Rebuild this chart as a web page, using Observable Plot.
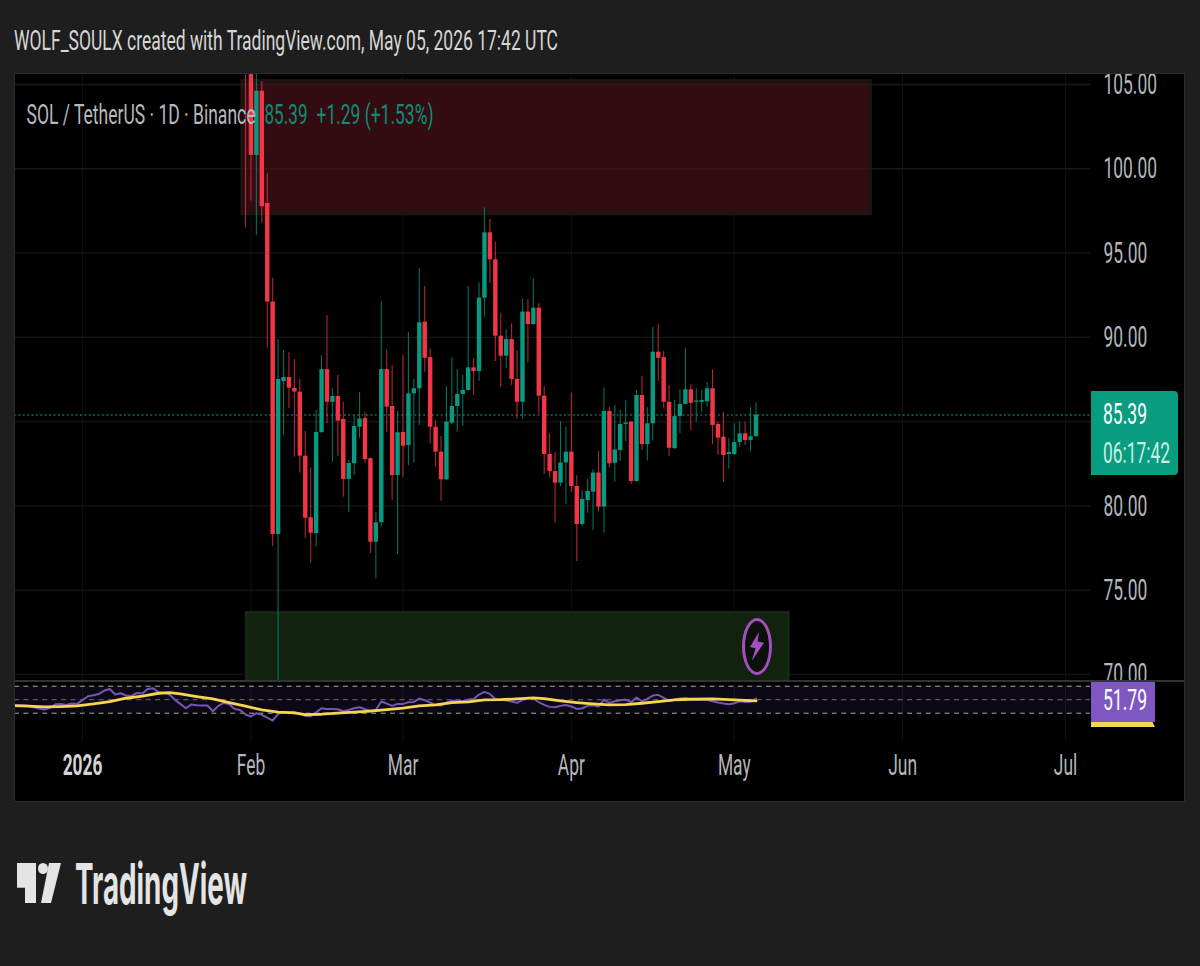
<!DOCTYPE html>
<html>
<head>
<meta charset="utf-8">
<script src="https://cdn.jsdelivr.net/npm/d3@7"></script>
<script src="https://cdn.jsdelivr.net/npm/@observablehq/plot@0.6"></script>
<style>
html,body{margin:0;padding:0;background:#1e1e1e;}
body{width:1200px;height:966px;position:relative;overflow:hidden;font-family:Roboto,sans-serif;}
.sq{position:absolute;white-space:pre;transform-origin:0 50%;line-height:1;}
svg{display:block;}
</style>
</head>
<body>
<div id="root"></div>
<script>
// ---------- Data ----------
const firstCandleDay = Date.UTC(2026, 0, 31);
const opens = [108,
  106.5,100.79,104.6,97.94,92.1,78.3,87.38,87.62,86.98,86.75,82.95,79.3,78.36,84.35,88.09,86.15,86.49,85.13,81.57,82.5,84.67,85.19,82.8,77.85,79.0,88.09,85.9,81.8,
  84.36,83.58,86.65,86.95,90.9,88.8,84.67,83.19,81.55,84.91,85.9,86.61,86.85,88.19,87.97,92.32,96.2,94.6,90.07,88.88,89.87,87.5,86.15,91.5,90.76,91.73,86.51,83.05,82.04,81.35,82.55,
  83.19,81.15,78.9,80.32,80.82,81.95,79.93,85.6,82.53,83.29,84.83,84.97,81.45,86.55,83.64,84.87,89.12,88.8,86.15,83.4,85.3,86.02,86.89,86.15,86.15,86.17,86.95,84.83,84.08,83.05,
  83.05,83.76,84.28,83.88,84.1];
const highs = [110,
  107.5,106.5,105.18,99.72,93.5,89.87,89.22,89.12,88.69,87.5,84.42,82.26,85.66,88.92,91.3,86.97,87.74,86.15,82.7,85.36,86.71,85.56,82.85,79.6,92.12,89.26,88.33,85.62,
  88.92,90.27,87.5,94.08,93.02,89.3,85.07,84.12,87.08,88.79,88.09,87.74,93.02,88.73,93.24,97.68,96.99,95.65,91.4,90.45,90.8,89.22,92.29,92.23,93.47,91.99,87.08,84.28,83.19,85.0,84.67,
  86.69,81.8,80.92,81.6,82.14,83.23,87.0,85.86,85.96,85.66,86.26,85.0,86.85,87.68,85.82,90.6,90.76,89.16,87.14,86.25,86.9,89.32,87.2,86.95,86.85,87.3,88.08,84.97,85.56,83.98,
  84.87,84.97,84.97,85.86,86.1];
const lows = [96.5,
  98.08,96.04,96.75,89.36,77.6,69.5,84.18,85.78,82.89,81.94,78.08,76.6,77.55,84.3,84.89,82.59,82.95,80.52,79.63,81.8,84.02,82.53,77.16,75.68,78.73,84.37,80.32,77.12,
  81.7,82.4,82.53,84.77,87.93,83.68,82.3,80.28,81.5,84.83,84.37,84.71,86.8,86.55,87.38,91.2,93.2,88.57,87.04,88.17,87.14,85.16,85.16,88.47,90.7,85.46,81.86,81.66,78.98,81.15,80.08,
  80.81,76.7,78.8,79.57,78.54,79.63,78.38,82.26,81.41,82.64,83.82,81.27,81.41,83.29,82.66,83.85,87.4,85.8,82.95,83.35,84.27,86.0,84.47,84.97,85.56,85.86,83.64,82.99,81.41,82.19,
  82.99,83.48,83.58,83.25,84.1];
const closes = [106.5,
  100.79,104.6,97.75,92.09,78.3,87.5,87.62,86.98,86.75,82.95,79.27,78.38,84.36,88.09,86.15,86.49,85.03,81.57,82.52,84.71,85.16,82.75,77.85,79.0,88.09,85.86,81.8,84.34,
  83.54,86.65,86.95,90.86,88.76,84.67,83.19,81.55,84.97,85.9,86.61,86.85,88.19,87.97,92.32,96.2,94.6,90.07,88.88,89.87,87.5,86.15,91.5,90.76,91.73,86.51,83.05,82.04,81.35,82.55,83.19,
  81.15,78.9,80.38,80.86,81.95,79.93,85.6,82.5,83.32,84.83,84.91,81.45,86.55,83.64,84.87,89.12,88.76,86.15,83.42,85.3,86.02,86.89,86.09,86.22,86.25,86.95,84.77,84.02,82.99,83.17,
  83.76,84.28,83.88,84.1,85.39];

const firstRsiDay = Date.UTC(2025, 11, 19);
const rsiValues = [41.9,41.4,41.4,40.9,38.9,36.9,35.4,37.9,43.3,43.8,42.3,44.3,43.8,49.8,55.2,56.7,58.6,63.6,66.0,57.7,59.6,56.2,55.7,60.1,59.1,66.0,67.0,61.1,60.1,57.7,49.8,43.8,37.4,42.8,41.9,41.4,41.4,33.0,40.9,45.3,43.3,36.4,34.9,28.0,25.1,30.0,27.5,23.6,19.1,29.0,31.5,31.5,31.5,29.0,26.0,25.6,31.5,37.4,36.4,36.4,35.9,33.0,34.9,37.4,38.9,35.9,33.9,34.9,47.3,44.3,40.9,43.8,
  43.8,46.3,46.8,51.7,49.3,45.8,42.3,41.4,45.8,48.3,48.3,47.8,50.2,51.2,57.7,61.6,58.6,51.2,50.2,48.8,47.3,45.3,49.8,52.2,52.2,46.3,42.3,39.4,38.9,40.9,42.3,39.9,36.4,37.4,40.9,41.9,39.9,50.2,45.3,47.8,49.3,50.2,46.3,53.2,47.8,51.2,56.2,57.2,52.7,47.8,50.2,51.7,52.7,50.7,49.8,49.8,49.8,47.8,45.8,44.3,43.3,44.8,47.8,46.8,46.8,51.79];
const maDayIndex = [0,3,6,9,12,15,18,21,24,27,29,31,34,37,40,43,46,49,52,54,57,60,63,66,69,72,75,78,81,84,87,90,93,96,98,101,104,107,110,113,116,119,122,125,129,133,137];
const maValues = [41.4,40.4,39.4,39.9,40.9,43.8,47.3,52.2,55.2,59.6,60.6,58.6,54.7,51.2,45.8,40.4,34.9,31.5,30.5,28.0,28.5,30.0,31.5,33.0,35.4,37.4,40.9,42.3,45.8,46.8,49.8,50.2,51.2,52.7,51.7,48.3,45.8,43.8,42.3,42.8,44.8,47.3,49.8,50.7,51.2,49.8,48.3];

const priceTicks = [70,75,80,85,90,95,100,105];
const monthDates = [[2026,1],[2026,2],[2026,3],[2026,4],[2026,5],[2026,6]];
const monthLabels = ["Feb","Mar","Apr","May","Jun","Jul"];
const yearLabel = "2026";
const lastPrice = 85.39;
const lastRsi = 51.79;
const countdown = "06:17:42";
const titleText = "WOLF_SOULX created with TradingView.com, May 05, 2026 17:42 UTC";
const symbolText = "SOL / TetherUS · 1D · Binance";
const changeText = "+1.29 (+1.53%)";
const supplyZone = {from: Date.UTC(2026,0,30,12), to: Date.UTC(2026,4,26,2), top: 105.18, bottom: 97.32};
const demandZone = {from: Date.UTC(2026,0,31,6), to: Date.UTC(2026,4,11,0), top: 73.65, bottom: 69};

// ---------- Tables ----------
const DAY = 864e5;
const candles = opens.map((o,i)=>({date:new Date(firstCandleDay+i*DAY),o,h:highs[i],l:lows[i],c:closes[i]}));
const rsi = rsiValues.map((v,i)=>({date:new Date(firstRsiDay+i*DAY),v}));
const ma = maValues.map((v,i)=>({date:new Date(firstRsiDay+maDayIndex[i]*DAY),v}));
const months = monthDates.map(([y,m])=>new Date(Date.UTC(y,m,1)));
const jan = new Date(Date.UTC(2026,0,1));
const allMonths = [jan,...months];
const labelOf = new Map(months.map((d,i)=>[+d,monthLabels[i]]));

// ---------- Shared scale ----------
const xDomain = [new Date(Date.UTC(2025,11,19,11)), new Date(Date.UTC(2026,6,5,14,24))];
const GREEN="#089981", RED="#f23645", GRID="#131313", VGRID="#111111", TXT="#b4b6bc";
const FONT="Roboto, sans-serif";
const col = d=>d.c>=d.o?GREEN:RED;

const root = document.getElementById("root");
function place(el,l,t){el.style.position="absolute";el.style.left=l+"px";el.style.top=t+"px";root.appendChild(el);return el;}
function squash(svg,widths,r){
  svg.querySelectorAll("text").forEach(t=>{
    const s=t.textContent, len=t.getComputedTextLength();
    const w=widths[s]!==undefined?widths[s]:len*r;
    t.setAttribute("textLength",w);
    t.setAttribute("lengthAdjust","spacingAndGlyphs");
  });
}
function label(text,l,cy,size,width,color,weight,family){
  const s=document.createElement("div");
  s.className="sq";
  s.textContent=text;
  s.style.fontSize=size+"px";
  s.style.color=color;
  if(weight)s.style.fontWeight=weight;
  if(family)s.style.fontFamily=family;
  root.appendChild(s);
  const w=s.getBoundingClientRect().width;
  s.style.left=l+"px";
  s.style.top=(cy-size/2)+"px";
  s.style.transform=`scaleX(${width/w})`;
  return s;
}

// ---------- Panel ----------
const panel=document.createElement("div");
panel.style.cssText="width:1171px;height:729px;background:#000;box-sizing:border-box;";
place(panel,14,73);

// ---------- Price pane ----------
const pricePlot = Plot.plot({
  width:1171,height:608,marginLeft:0,marginRight:95,marginTop:0,marginBottom:0,
  style:{background:"#000",color:TXT,fontFamily:FONT,fontSize:"30px",overflow:"visible"},
  x:{type:"utc",domain:xDomain,range:[0,1076],axis:null},
  y:{domain:[69.61,105.65],range:[607.6,0],axis:null},
  marks:[
    Plot.ruleX(allMonths,{stroke:VGRID,strokeWidth:1}),
    Plot.ruleY(priceTicks,{stroke:GRID,strokeWidth:1.5}),
    Plot.rect([supplyZone],{x1:"from",x2:"to",y1:"bottom",y2:"top",fill:"#330c12",stroke:"#1c1312",strokeWidth:4,clip:true}),
    Plot.rect([demandZone],{x1:"from",x2:"to",y1:"bottom",y2:"top",fill:"#11230e",stroke:"#182616",strokeWidth:3,clip:true}),
    Plot.ruleY(priceTicks.filter(d=>d===100||d===105),{stroke:"#ffffff",strokeOpacity:0.03,strokeWidth:1.5}),
    Plot.ruleY([lastPrice],{stroke:"#1aa88f",strokeWidth:1.1,strokeDasharray:"1.8,2.6"}),
    Plot.ruleX(candles,{x:"date",y1:"l",y2:"h",stroke:col,strokeWidth:1.1,strokeOpacity:0.72,clip:true}),
    Plot.ruleX(candles,{x:"date",y1:"o",y2:"c",stroke:col,strokeWidth:4.4,clip:true}),
    Plot.text([symbolText],{frameAnchor:"top-left",dx:12,dy:42,lineAnchor:"middle",textAnchor:"start",fill:"#b7b9bf",fontSize:28}),
    Plot.text([String(lastPrice)],{frameAnchor:"top-left",dx:250,dy:42,lineAnchor:"middle",textAnchor:"start",fill:"#0b8d76",fontSize:28}),
    Plot.text([changeText],{frameAnchor:"top-left",dx:302,dy:42,lineAnchor:"middle",textAnchor:"start",fill:"#0b8d76",fontSize:28}),
    Plot.axisY(priceTicks,{anchor:"right",tickSize:0,tickPadding:13,tickFormat:d=>d.toFixed(2),label:null,fill:TXT,fontSize:30})
  ]
});
place(pricePlot,14,73);
const yP=pricePlot.scale("y");
squash(pricePlot,{[symbolText]:229,[String(lastPrice)]:43,[changeText]:117},0.58);

// ---------- RSI pane + time axis ----------
const rsiPlot = Plot.plot({
  width:1171,height:121,marginLeft:0,marginRight:95,marginTop:0,marginBottom:60,
  style:{background:"#000",color:TXT,fontFamily:FONT,fontSize:"30px",overflow:"visible"},
  x:{type:"utc",domain:xDomain,range:[0,1076],axis:null},
  y:{domain:[0,100],range:[51.95,-15.5],axis:null},
  marks:[
    Plot.ruleX(allMonths,{stroke:VGRID,strokeWidth:1}),
    Plot.rect([{a:70,b:30}],{y1:"a",y2:"b",x1:()=>xDomain[0],x2:()=>xDomain[1],fill:"#7e57c2",fillOpacity:0.1}),
    Plot.ruleY([70,30],{stroke:"#a6a6a6",strokeDasharray:"5,4.4",strokeWidth:1}),
    Plot.ruleY([50],{stroke:"#6c6c6c",strokeDasharray:"5,4.4",strokeWidth:1}),
    Plot.line(rsi,{x:"date",y:"v",stroke:"#7555b8",strokeWidth:2,curve:"linear",clip:true}),
    Plot.line(ma,{x:"date",y:"v",stroke:"#f6d64e",strokeWidth:2.8,curve:"linear",clip:true}),
    Plot.axisX(months,{anchor:"bottom",tickSize:0,tickPadding:11,tickFormat:d=>labelOf.get(+d),label:null,fill:TXT,fontSize:30}),
    Plot.axisX([jan],{anchor:"bottom",tickSize:0,tickPadding:11,tickFormat:()=>yearLabel,label:null,fill:"#d4d4d6",fontSize:30,fontWeight:"bold"})
  ]
});
place(rsiPlot,14,681);
squash(rsiPlot,{},0.58);

// ---------- Separator and panel border ----------
const sep=document.createElement("div");
sep.style.cssText="width:1171px;height:2px;background:#333;";
place(sep,14,680);
const border=document.createElement("div");
border.style.cssText="width:1171px;height:729px;box-sizing:border-box;border:1px solid #2c2c2c;pointer-events:none;";
place(border,14,73);

// ---------- Last-price tag ----------
const lastY = 73+yP.apply(lastPrice);
const tag=document.createElement("div");
tag.style.cssText="width:87px;height:84px;background:#089c81;border-radius:0 4px 4px 0;";
place(tag,1091,lastY-23.6);
label(String(lastPrice),1103,lastY-1,30,44,"#ffffff");
label(countdown,1103,lastY+38,30,67,"#c9efe6");

// ---------- RSI tag ----------
const rsiTag=document.createElement("div");
rsiTag.style.cssText="width:64px;height:40px;background:#7e57c2;";
place(rsiTag,1091,682);
const maTag=document.createElement("div");
maTag.style.cssText="width:64px;height:5px;background:#f6d64e;clip-path:polygon(0 0,96% 0,100% 100%,0 100%);";
place(maTag,1091,722);
label(String(lastRsi),1103,700,30,44,"#ffffff");

// ---------- Lightning badge ----------
const ring=document.createElement("div");
ring.style.cssText="width:30px;height:57px;box-sizing:border-box;border:3px solid #a24fbd;border-radius:50%;background:#0b110a;";
place(ring,741.5,618);
const bolt=document.createElement("div");
bolt.style.cssText="width:14px;height:29px;background:#a24fbd;clip-path:polygon(64% 0,0 52%,39% 56%,13% 100%,100% 37%,55% 33%);";
place(bolt,750,632);

// ---------- Title ----------
label(titleText,14,41,28,544,"#d6d6d6");

// ---------- Logo ----------
const LOGO="#e4e4e4";
const t=document.createElement("div");
t.style.cssText=`width:19px;height:40px;background:${LOGO};clip-path:polygon(0 0,100% 0,100% 100%,42% 100%,42% 62%,0 62%);`;
place(t,17,863);
const dot=document.createElement("div");
dot.style.cssText=`width:10px;height:11px;border-radius:50%;background:${LOGO};`;
place(dot,37.5,863);
const slash=document.createElement("div");
slash.style.cssText=`width:20px;height:40px;background:${LOGO};clip-path:polygon(40% 0,100% 0,50% 100%,0 100%);`;
place(slash,41,863);
label("TradingView",75,884,56,172,LOGO,"700","Inter, Roboto, sans-serif");
</script>
</body>
</html>
